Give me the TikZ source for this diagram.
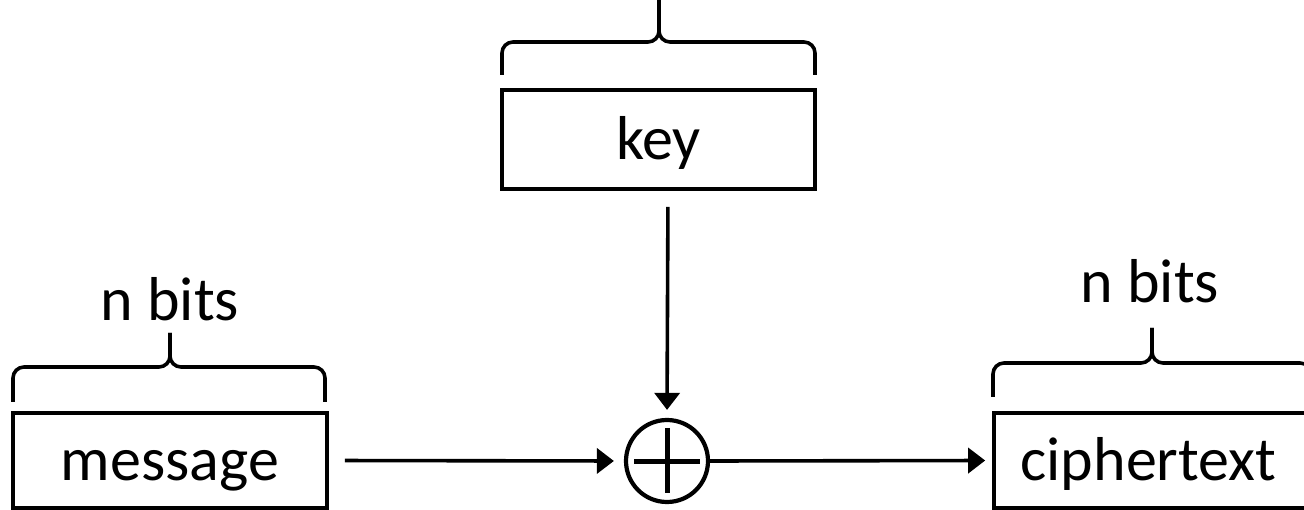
\documentclass[tikz,border=0pt]{standalone}
\usepackage{fontspec}
\setmainfont{Carlito}
\usetikzlibrary{arrows.meta}
\tikzset{
  box/.style={draw, line width=3.6pt, inner sep=0pt, text height=45pt, text depth=5pt,
    font=\fontsize{62}{74}\selectfont},
  lbl/.style={anchor=base, inner sep=0pt, font=\fontsize{62}{74}\selectfont},
  arr/.style={line width=3.6pt, -{Triangle[length=17pt,width=25pt]}},
  brc/.style={line width=3.6pt, rounded corners=11pt},
}
\newcommand\mybrace[6]{%
  \draw[brc] (#1,#4) -- (#1,#5) -- (#3,#5) -- (#3,#6);
  \draw[brc] (#2,#4) -- (#2,#5) -- (#3,#5) -- (#3,#6);
}
\begin{document}
\begin{tikzpicture}[x=1pt,y=-1pt]
\useasboundingbox (0,0) rectangle (1304,510);
\node[box, minimum width=313pt, minimum height=99pt] (key) at (658.5,139.5) {key};
\node[box, minimum width=314pt, minimum height=95pt] (msg) at (170,460.5) {message};
\node[box, minimum width=318pt, minimum height=95pt, text width=318pt, align=center] (ct) at (1153,460.5) {\hspace*{-9pt}ciphertext};
\node[draw, circle, line width=4.2pt, minimum size=82pt, inner sep=0pt] (xor) at (667,461) {};
\draw[line width=5pt] ([xshift=-33pt]xor.center) -- ([xshift=33pt]xor.center);
\draw[line width=5pt] ([yshift=33pt]xor.center) -- ([yshift=-32pt]xor.center);
\node[lbl] (nb1) at (170,321) {n bits};
\node[lbl] (nb2) at (1150,303) {n bits};
\mybrace{502}{815}{659}{75}{42}{-5}
\mybrace{13}{325}{170}{402}{367}{333}
\mybrace{993}{1311}{1152}{397}{363}{328}
\draw[arr, shorten <=16pt, shorten >=8pt] (key.south) ++(9.5,0) coordinate (ks) (ks) -- (xor.north);
\draw[arr, shorten <=16pt, shorten >=10pt] (msg.east) -- (xor.west);
\draw[arr, shorten >=7pt] (xor.east) -- (ct.west);
\end{tikzpicture}
\end{document}
